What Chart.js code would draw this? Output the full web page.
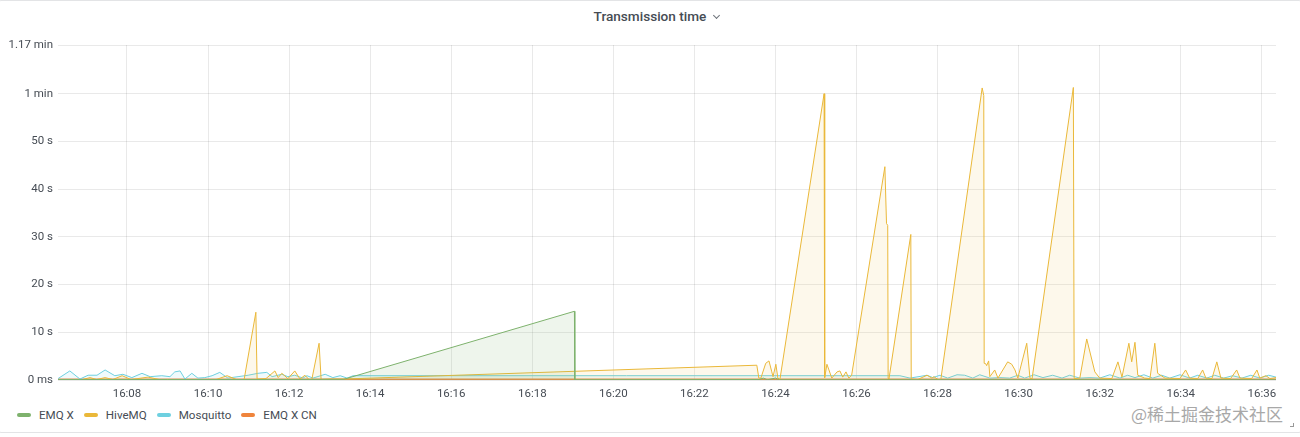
<!DOCTYPE html>
<html>
<head>
<meta charset="utf-8">
<script src="https://cdn.jsdelivr.net/npm/chart.js@4.4.1/dist/chart.umd.min.js"></script>
<style>
  html, body { margin: 0; padding: 0; background: #fff; }
  body { width: 1300px; height: 437px; position: relative; overflow: hidden; font-family: Roboto, "Noto Sans", sans-serif; }
  .panel { position: absolute; left: -2px; top: 0; width: 1304px; height: 433px; border: 1px solid #e3e4e6; border-radius: 3px; box-sizing: border-box; }
  .title { position: absolute; top: 8px; left: 0; width: 1300px; text-align: center; font-size: 13.6px; font-weight: 500; color: #464c54; }
  .title .txt { position: relative; }
  .chev { position: absolute; right: -13px; top: 5px; width: 4px; height: 4px; border-right: 1px solid #6e737a; border-bottom: 1px solid #6e737a; transform: rotate(45deg); }
  #wrap { position: absolute; left: 0; top: 0; width: 1300px; height: 400px; }
  .legend { position: absolute; left: 17px; top: 408px; display: flex; font-size: 11.6px; color: #464c54; }
  .legend .item { display: flex; align-items: center; margin-right: 10px; }
  .legend .sw { width: 14px; height: 4px; border-radius: 2px; margin-right: 8px; }
  .mark { position: absolute; right: 17px; top: 401px; font-family: "Noto Sans CJK SC", sans-serif; font-size: 17px; color: #a8a8a8; }
  .grip { position: absolute; left: 1290px; top: 423px; width: 3px; height: 3px; border-right: 1px solid #999; border-bottom: 1px solid #999; }
</style>
</head>
<body>
<div class="panel"></div>
<div class="title"><span class="txt">Transmission time<span class="chev"></span></span></div>
<div id="wrap"><canvas id="chart" width="1300" height="400"></canvas></div>
<div class="legend" id="legend"></div>
<div class="mark">@稀土掘金技术社区</div>
<div class="grip"></div>
<script>
// time in minutes after 16:00, value in seconds
const xTickValues = [8, 10, 12, 14, 16, 18, 20, 22, 24, 26, 28, 30, 32, 34, 36];
const yTickValues = [0, 10, 20, 30, 40, 50, 60, 70.2];
const seriesNames = ["EMQ X", "HiveMQ", "Mosquitto", "EMQ X CN"];
const seriesColors = ["#7eb26d", "#eab839", "#6ed0e0", "#ef843c"];

const emqx = [
  [6.30, 0.1], [9.0, 0.1], [11.5, 0.1], [13.35, 0.15], [19.04, 14.4], [19.05, 0.05],
  [23.6, 0.1], [23.7, 0.4], [23.8, 0.05], [24.0, 0.4], [24.1, 0.05], [36.35, 0.05]
];

const hivemq = [
  [6.30, 0.1], [6.9, 0.1], [7.09, 0.5], [7.25, 0.1], [7.46, 0.5], [7.65, 0.1], [7.88, 0.9],
  [8.1, 0.1], [8.52, 0.6], [8.8, 0.1], [10.2, 0.1], [10.47, 0.9], [10.7, 0.1], [10.89, 0.1],
  [11.18, 14.2], [11.21, 0.2], [11.43, 0.3], [11.65, 1.9], [11.73, 0.5], [11.82, 1.4],
  [11.97, 0.3], [12.14, 1.9], [12.27, 0.2], [12.39, 1.0], [12.49, 0.1], [12.56, 0.1],
  [12.74, 7.7], [12.79, 0.1], [13.01, 0.2], [13.33, 0.2], [23.54, 3.1], [23.59, 0.4],
  [23.64, 0.4], [23.76, 3.5], [23.84, 4.0], [23.91, 1.7], [23.94, 0.7], [24.01, 3.3],
  [24.06, 0.4], [24.11, 0.1], [25.20, 60.0], [25.21, 30.5], [25.22, 0.5], [25.27, 3.3],
  [25.32, 2.1], [25.39, 0.4], [25.52, 1.7], [25.59, 1.9], [25.66, 0.6], [25.74, 1.7],
  [25.81, 0.4], [25.88, 1.0], [26.70, 44.7], [26.74, 32.8], [26.77, 32.4], [26.78, 0.3],
  [26.80, 0.2], [27.34, 30.5], [27.35, 0.2], [27.51, 0.1], [27.74, 1.0], [27.86, 0.4],
  [27.91, 0.7], [28.01, 0.1], [28.08, 0.1], [29.10, 61.2], [29.14, 59.6], [29.15, 3.5],
  [29.19, 3.4], [29.21, 3.0], [29.26, 4.0], [29.29, 0.7], [29.41, 2.1], [29.49, 0.4],
  [29.73, 3.8], [29.83, 3.3], [29.91, 2.1], [29.98, 0.4], [30.20, 7.7], [30.28, 0.4],
  [30.33, 0.2], [31.35, 61.3], [31.37, 0.3], [31.51, 0.4], [31.68, 8.6], [31.88, 1.7],
  [32.00, 0.4], [32.30, 0.3], [32.45, 3.8], [32.55, 0.6], [32.72, 7.7], [32.79, 3.8],
  [32.87, 7.9], [32.94, 1.0], [33.11, 0.4], [33.24, 0.3], [33.36, 7.7], [33.43, 1.4],
  [33.61, 0.4], [33.98, 0.3], [34.12, 2.1], [34.22, 0.4], [34.42, 0.3], [34.54, 2.1],
  [34.62, 0.4], [34.77, 0.3], [34.89, 3.8], [34.99, 0.4], [35.23, 0.3], [35.38, 2.1],
  [35.46, 0.4], [35.75, 0.3], [35.88, 2.1], [35.95, 0.4], [36.10, 0.9], [36.20, 0.3],
  [36.35, 0.5]
];

const mosquitto = [
  [6.30, 0.3], [6.59, 1.9], [6.84, 0.2], [7.04, 1.0], [7.26, 1.0], [7.46, 2.1], [7.70, 0.9],
  [7.90, 1.2], [8.12, 0.5], [8.37, 1.4], [8.57, 0.7], [8.86, 0.9], [9.06, 0.7], [9.18, 1.7],
  [9.31, 1.9], [9.43, 0.2], [9.60, 1.4], [9.75, 0.4], [9.92, 0.5], [10.10, 0.9], [10.29, 1.6],
  [10.49, 0.4], [10.74, 0.7], [10.99, 1.0], [11.23, 1.4], [11.45, 1.6], [11.58, 0.7],
  [11.82, 1.2], [11.97, 0.7], [12.14, 1.0], [12.34, 0.4], [12.44, 0.9], [12.59, 0.4],
  [12.89, 1.2], [13.08, 0.5], [13.26, 0.9], [13.43, 0.4], [13.58, 0.9], [27.07, 0.9],
  [27.32, 0.4], [27.74, 1.0], [27.88, 0.5], [28.06, 1.0], [28.25, 0.4], [28.48, 1.1],
  [28.67, 1.0], [28.87, 0.4], [29.04, 1.1], [29.29, 0.4], [29.54, 0.5], [29.78, 0.4],
  [29.98, 1.0], [30.15, 0.4], [30.38, 1.1], [30.60, 0.5], [30.84, 1.0], [31.07, 0.4],
  [31.26, 1.0], [31.51, 0.4], [31.76, 0.5], [32.00, 0.4], [32.25, 1.1], [32.50, 0.4],
  [32.69, 1.0], [32.87, 0.5], [33.09, 1.1], [33.31, 0.4], [33.53, 1.0], [33.73, 0.4],
  [33.98, 1.1], [34.22, 0.4], [34.42, 1.0], [34.64, 0.4], [34.84, 1.0], [35.06, 0.4],
  [35.28, 0.9], [35.51, 0.4], [35.73, 1.0], [35.95, 0.4], [36.17, 1.0], [36.35, 0.6]
];

const emqxCn = [[6.30, 0.08], [16.0, 0.08], [26.0, 0.08], [36.35, 0.08]];

const allSeries = [emqx, hivemq, mosquitto, emqxCn];

function hexToRgba(hex, a) {
  const n = parseInt(hex.slice(1), 16);
  return `rgba(${(n >> 16) & 255},${(n >> 8) & 255},${n & 255},${a})`;
}

function fmtSeconds(v) {
  if (v === 0) return "0 ms";
  if (v >= 60) return parseFloat((v / 60).toFixed(2)) + " min";
  return v + " s";
}

function fmtClock(m) {
  return "16:" + String(Math.round(m)).padStart(2, "0");
}

const datasets = allSeries.map((pts, i) => ({
  label: seriesNames[i],
  data: pts.map(p => ({ x: p[0], y: p[1] })),
  borderColor: seriesColors[i],
  backgroundColor: hexToRgba(seriesColors[i], i === 0 ? 0.13 : 0.1),
  borderWidth: i === 3 ? 2 : 1,
  fill: "origin",
  pointRadius: 0,
  tension: 0
}));

const tickFont = { family: "Roboto, 'Noto Sans', sans-serif", size: 11.5 };

new Chart(document.getElementById("chart").getContext("2d"), {
  type: "line",
  data: { datasets },
  options: {
    responsive: false,
    animation: false,
    layout: { padding: { top: 45, right: 24, left: 0, bottom: 0 } },
    plugins: { legend: { display: false }, tooltip: { enabled: false } },
    scales: {
      x: {
        type: "linear",
        min: 6.298,
        max: 36.35,
        afterBuildTicks: axis => { axis.ticks = xTickValues.map(v => ({ value: v })); },
        afterFit: axis => { axis.height = 20; },
        ticks: { color: "#464c54", font: tickFont, padding: 7, maxRotation: 0, autoSkip: false, callback: v => fmtClock(v) },
        grid: { color: "rgba(0,0,0,0.085)", drawTicks: false },
        border: { display: false }
      },
      y: {
        min: 0,
        max: 70.2,
        afterBuildTicks: axis => { axis.ticks = yTickValues.map(v => ({ value: v })); },
        afterFit: axis => { axis.width = 58; },
        ticks: { color: "#464c54", font: tickFont, padding: 5, callback: v => fmtSeconds(v) },
        grid: { color: "rgba(0,0,0,0.085)", drawTicks: false },
        border: { display: false }
      }
    }
  }
});

const legend = document.getElementById("legend");
seriesNames.forEach((name, i) => {
  const item = document.createElement("div");
  item.className = "item";
  item.innerHTML = `<span class="sw" style="background:${seriesColors[i]}"></span><span>${name}</span>`;
  legend.appendChild(item);
});
</script>
</body>
</html>
